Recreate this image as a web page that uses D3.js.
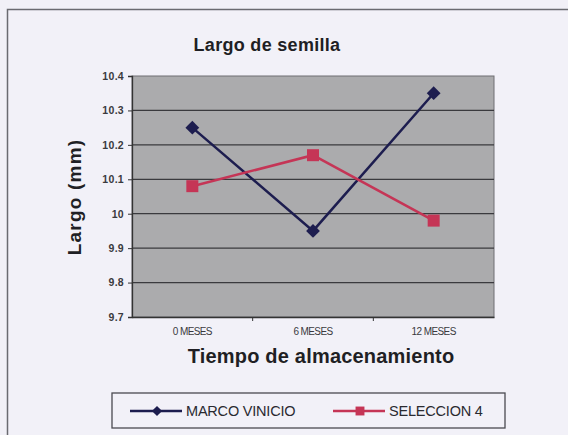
<!DOCTYPE html>
<html>
<head>
<meta charset="utf-8">
<script src="https://cdn.jsdelivr.net/npm/d3@7"></script>
<style>
  html, body { margin: 0; padding: 0; background: #f1f0f7; }
  svg { display: block; }
</style>
</head>
<body>
<script>
// Seed length by storage time, two selections
const categories = ["0 MESES", "6 MESES", "12 MESES"];
const marcoVinicio = [10.25, 9.95, 10.35];
const seleccion4 = [10.08, 10.17, 9.98];
const yTicks = [9.7, 9.8, 9.9, 10, 10.1, 10.2, 10.3, 10.4];
const seriesNames = ["MARCO VINICIO", "SELECCION 4"];

const W = 568, H = 435;
const plot = { left: 132, right: 494, top: 76, bottom: 317 };
const FONT = "Liberation Sans, Arial, sans-serif";

const svg = d3.select("body").append("svg")
  .attr("width", W).attr("height", H);

// Outer chart frame
svg.append("rect")
  .attr("x", 7.5).attr("y", 9.5)
  .attr("width", 580).attr("height", 440)
  .attr("fill", "#f2f1f8")
  .attr("stroke", "#6a6a70").attr("stroke-width", 1.5);

const x = d3.scaleBand().domain(categories).range([plot.left, plot.right]).padding(0);
const y = d3.scaleLinear().domain([9.7, 10.4]).range([plot.bottom, plot.top]);

// Plot area
svg.append("rect")
  .attr("x", plot.left).attr("y", plot.top)
  .attr("width", plot.right - plot.left).attr("height", plot.bottom - plot.top)
  .attr("fill", "#ababad")
  .attr("stroke", "#6f6f72").attr("stroke-width", 1);

// Gridlines
svg.append("g").selectAll("line")
  .data(yTicks.slice(1, -1))
  .join("line")
  .attr("x1", plot.left).attr("x2", plot.right)
  .attr("y1", d => y(d)).attr("y2", d => y(d))
  .attr("stroke", "#3a3a3e").attr("stroke-width", 1.2);

// Y axis
const yAxis = svg.append("g")
  .attr("transform", `translate(${plot.left},0)`)
  .call(d3.axisLeft(y).tickValues(yTicks).tickSize(4).tickPadding(4)
    .tickFormat(d => String(+d.toFixed(1))));
yAxis.select(".domain").attr("stroke", "#333").attr("stroke-width", 1.3);
yAxis.selectAll(".tick line").attr("stroke", "#333");
yAxis.selectAll("text")
  .attr("font-family", FONT)
  .attr("font-size", 10.5).attr("font-weight", "bold").attr("fill", "#3a3a3e")
  .attr("letter-spacing", 0.3);

// X axis with ticks between categories
const xAxis = svg.append("g")
  .attr("transform", `translate(0,${plot.bottom})`)
  .call(d3.axisBottom(x).tickSize(0).tickPadding(11));
xAxis.select(".domain").attr("stroke", "#333").attr("stroke-width", 1.3);
xAxis.selectAll("text")
  .attr("font-family", FONT)
  .attr("font-size", 10).attr("fill", "#3a3a3e").attr("letter-spacing", -0.6);
xAxis.selectAll(".divider")
  .data(categories.slice(1))
  .join("line")
  .attr("class", "divider")
  .attr("x1", d => x(d)).attr("x2", d => x(d))
  .attr("y1", 0).attr("y2", 4)
  .attr("stroke", "#333");

// Series
const series = [
  { name: seriesNames[0], values: marcoVinicio, color: "#1d1d4f", rotate: 45, size: 95 },
  { name: seriesNames[1], values: seleccion4, color: "#c53556", rotate: 0, size: 144 }
];

const line = d3.line()
  .x((d, i) => x(categories[i]) + x.bandwidth() / 2)
  .y(d => y(d));

series.forEach(s => {
  svg.append("path")
    .datum(s.values)
    .attr("fill", "none")
    .attr("stroke", s.color)
    .attr("stroke-width", 2.5)
    .attr("d", line);
  svg.append("g").selectAll("path")
    .data(s.values)
    .join("path")
    .attr("transform", (d, i) =>
      `translate(${x(categories[i]) + x.bandwidth() / 2},${y(d)}) rotate(${s.rotate})`)
    .attr("d", d3.symbol().type(d3.symbolSquare).size(s.size))
    .attr("fill", s.color);
});

// Titles
svg.append("text")
  .attr("x", 267).attr("y", 51)
  .attr("text-anchor", "middle")
  .attr("font-family", FONT)
  .attr("font-size", 18).attr("font-weight", "bold").attr("fill", "#1f1f24")
  .attr("letter-spacing", 0.3)
  .text("Largo de semilla");

svg.append("text")
  .attr("transform", "translate(81,197) rotate(-90)")
  .attr("text-anchor", "middle")
  .attr("font-family", FONT)
  .attr("font-size", 19).attr("font-weight", "bold").attr("fill", "#1f1f24")
  .attr("letter-spacing", 1.2)
  .text("Largo (mm)");

svg.append("text")
  .attr("x", 321).attr("y", 363)
  .attr("text-anchor", "middle")
  .attr("font-family", FONT)
  .attr("font-size", 20).attr("font-weight", "bold").attr("fill", "#1f1f24")
  .attr("letter-spacing", 0.2)
  .text("Tiempo de almacenamiento");

// Legend
const legend = svg.append("g");
legend.append("rect")
  .attr("x", 112).attr("y", 393)
  .attr("width", 393).attr("height", 35)
  .attr("fill", "#f2f1f8")
  .attr("stroke", "#4a4a50").attr("stroke-width", 1.3);

const legendX = [130, 333];
series.forEach((s, i) => {
  const g = legend.append("g").attr("transform", `translate(${legendX[i]},411)`);
  g.append("line").attr("x1", 0).attr("x2", 52).attr("y1", 0).attr("y2", 0)
    .attr("stroke", s.color).attr("stroke-width", 2.5);
  g.append("path")
    .attr("transform", `translate(27,0) rotate(${s.rotate})`)
    .attr("d", d3.symbol().type(d3.symbolSquare).size(s.size * 0.55))
    .attr("fill", s.color);
  g.append("text")
    .attr("x", 56).attr("y", 5)
    .attr("font-family", FONT)
    .attr("font-size", 14.5).attr("fill", "#2a2a30")
    .attr("letter-spacing", -0.2)
    .text(s.name);
});
</script>
</body>
</html>
